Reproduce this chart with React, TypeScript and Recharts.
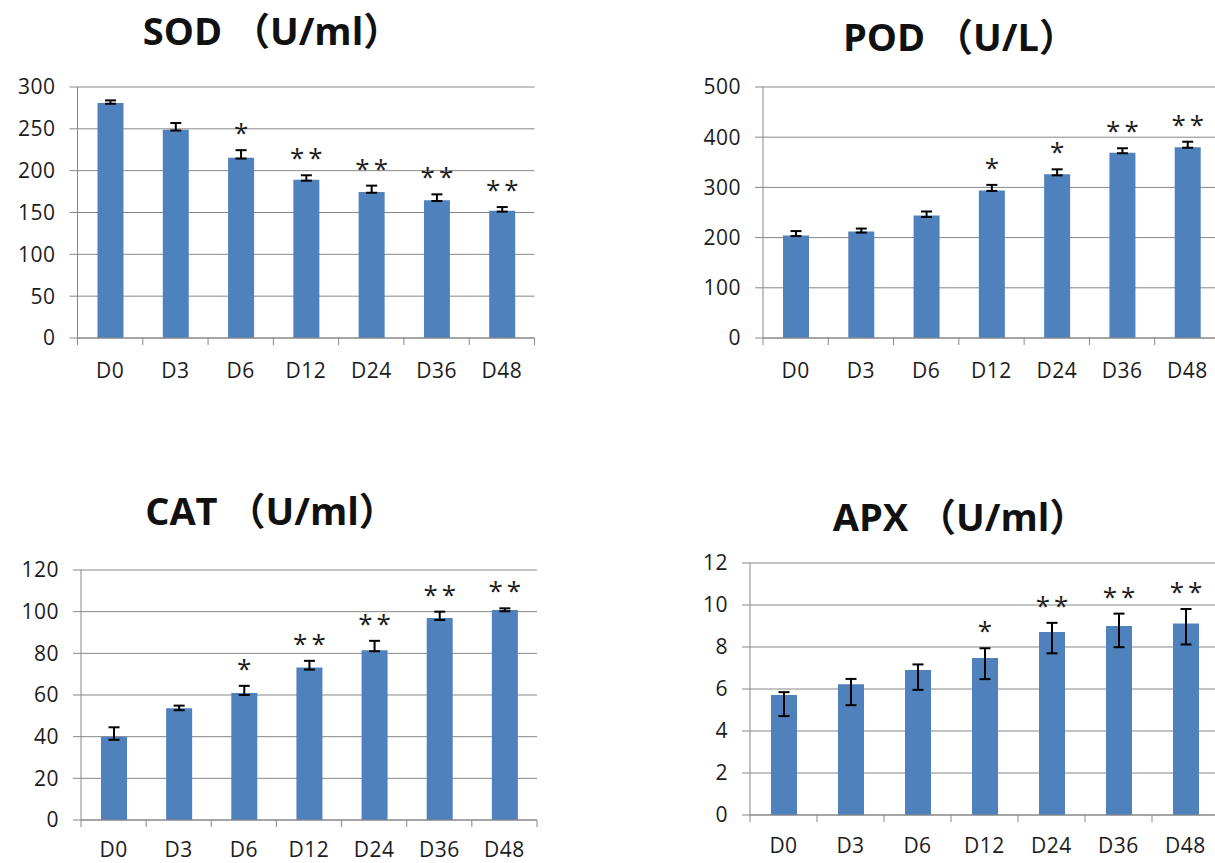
import { BarChart, Bar, XAxis, YAxis, CartesianGrid, ErrorBar, LabelList } from 'recharts'

const dias = ['D0', 'D3', 'D6', 'D12', 'D24', 'D36', 'D48']

const sodValores = [281, 249, 215.5, 189, 174.6, 164.7, 152]
const sodErrInf = [1, 1, 1, 1, 1, 1, 1]
const sodErrSup = [3, 8, 9, 5.5, 7.5, 7, 4.5]
const sodMarcas = ['', '', '*', '**', '**', '**', '**']
const sodTicks = [0, 50, 100, 150, 200, 250, 300]

const podValores = [204, 212, 244, 294, 326, 369, 380]
const podErrInf = [1, 2, 3, 1, 2, 1, 1]
const podErrSup = [9, 6, 8, 11, 10, 9, 11]
const podMarcas = ['', '', '', '*', '*', '**', '**']
const podTicks = [0, 100, 200, 300, 400, 500]

const catValores = [40, 53.7, 61, 73.2, 81.5, 97, 100.8]
const catErrInf = [1.5, 1, 1, 1, 0.5, 1, 0.6]
const catErrSup = [4.5, 1.2, 3.4, 3.2, 4.5, 3, 0.8]
const catMarcas = ['', '', '*', '**', '**', '**', '**']
const catTicks = [0, 20, 40, 60, 80, 100, 120]

const apxValores = [5.72, 6.23, 6.91, 7.48, 8.72, 9.0, 9.12]
const apxErrInf = [1.01, 1.0, 0.95, 1.01, 1.02, 1.01, 1.0]
const apxErrSup = [0.13, 0.25, 0.26, 0.46, 0.43, 0.59, 0.69]
const apxMarcas = ['', '', '', '*', '**', '**', '**']
const apxTicks = [0, 2, 4, 6, 8, 10, 12]

const AZUL = '#4F81BD'
const GRIS = '#878787'
const TEXTO = '#1c1c1c'
const FUENTE = "'Open Sans', 'Noto Sans CJK SC', sans-serif"

interface Caja {
  left: number
  top: number
  width: number
  height: number
  ejeY: number
  margenSup: number
  margenDer: number
  altoX: number
  margenTick: number
}

interface Props {
  titulo: string
  tituloX: number
  tituloY: number
  valores: number[]
  errInf: number[]
  errSup: number[]
  marcas: string[]
  ticks: number[]
  caja: Caja
}

function Panel({ titulo, tituloX, tituloY, valores, errInf, errSup, marcas, ticks, caja }: Props) {
  const data = dias.map((d, i) => ({
    dia: d,
    valor: valores[i],
    err: [errInf[i], errSup[i]],
    marca: marcas[i],
  }))
  const anchoPlot = caja.width - caja.ejeY - caja.margenDer
  const banda = anchoPlot / dias.length
  const margenTick = caja.margenTick

  const tickX = (p: any) => {
    const { x, y, payload, index } = p
    const yEje = y - margenTick
    const xa = x - banda / 2
    const xb = x + banda / 2
    return (
      <g>
        <line x1={xa} y1={yEje} x2={xa} y2={yEje + 7} stroke={GRIS} strokeWidth={1} />
        {index === dias.length - 1 && (
          <line x1={xb} y1={yEje} x2={xb} y2={yEje + 7} stroke={GRIS} strokeWidth={1} />
        )}
        <text
          x={x}
          y={y}
          dy="0.71em"
          textAnchor="middle"
          fill={TEXTO}
          fontSize={21}
          letterSpacing={0.5}
          fontFamily={FUENTE}
        >
          {payload.value}
        </text>
      </g>
    )
  }

  const marca = (p: any) => {
    const vb = p.viewBox ?? p
    const i = p.index
    const m = marcas[i]
    if (!m) return null
    const px = vb.height / valores[i]
    const yCap = vb.y - errSup[i] * px
    return (
      <text
        x={vb.x + vb.width / 2 + 2}
        y={yCap - 8}
        textAnchor="middle"
        fill={TEXTO}
        fontSize={26}
        letterSpacing={4}
        fontFamily={FUENTE}
      >
        {m}
      </text>
    )
  }

  return (
    <>
      <div
        style={{
          position: 'absolute',
          left: tituloX - 200,
          top: tituloY - 21,
          width: 400,
          height: 40,
          lineHeight: '40px',
          textAlign: 'center',
          fontSize: 38,
          fontWeight: 'bold',
          fontFamily: FUENTE,
          color: '#111',
          whiteSpace: 'pre',
        }}
      >
        {titulo}
      </div>
      <div style={{ position: 'absolute', left: caja.left, top: caja.top }}>
        <BarChart
          width={caja.width}
          height={caja.height}
          data={data}
          margin={{ top: caja.margenSup, right: caja.margenDer, bottom: 0, left: 0 }}
        >
          <CartesianGrid vertical={false} stroke={GRIS} />
          <XAxis
            dataKey="dia"
            height={caja.altoX}
            axisLine={{ stroke: GRIS }}
            tickLine={false}
            tickSize={0}
            tickMargin={margenTick}
            interval={0}
            tick={tickX}
          />
          <YAxis
            width={caja.ejeY}
            domain={[ticks[0], ticks[ticks.length - 1]]}
            ticks={ticks}
            interval={0}
            axisLine={{ stroke: GRIS }}
            tickLine={{ stroke: GRIS }}
            tickSize={8}
            tickMargin={14}
            tick={{ fill: TEXTO, fontSize: 21, fontFamily: FUENTE, letterSpacing: 0.5 }}
          />
          <Bar dataKey="valor" fill={AZUL} barSize={26} isAnimationActive={false}>
            <ErrorBar dataKey="err" direction="y" width={5.5} stroke="#000" strokeWidth={2} isAnimationActive={false} />
            <LabelList dataKey="marca" content={marca} />
          </Bar>
        </BarChart>
      </div>
    </>
  )
}

export default function App() {
  return (
    <div
      style={{
        position: 'absolute',
        left: 0,
        top: 0,
        width: 1215,
        height: 863,
        overflow: 'hidden',
        background: '#fff',
      }}
    >
      <Panel
        titulo="SOD （U/ml）"
        tituloX={272}
        tituloY={31}
        valores={sodValores}
        errInf={sodErrInf}
        errSup={sodErrSup}
        marcas={sodMarcas}
        ticks={sodTicks}
        caja={{ left: 0, top: 60, width: 545, height: 330, ejeY: 77.5, margenSup: 27, margenDer: 10.5, altoX: 52, margenTick: 25 }}
      />
      <Panel
        titulo="POD （U/L）"
        tituloX={960}
        tituloY={37}
        valores={podValores}
        errInf={podErrInf}
        errSup={podErrSup}
        marcas={podMarcas}
        ticks={podTicks}
        caja={{ left: 690, top: 60, width: 540, height: 330, ejeY: 73, margenSup: 27, margenDer: 10, altoX: 52, margenTick: 25 }}
      />
      <Panel
        titulo="CAT （U/ml）"
        tituloX={271}
        tituloY={511}
        valores={catValores}
        errInf={catErrInf}
        errSup={catErrSup}
        marcas={catMarcas}
        ticks={catTicks}
        caja={{ left: 0, top: 543, width: 547, height: 320, ejeY: 81, margenSup: 27, margenDer: 10, altoX: 43, margenTick: 22 }}
      />
      <Panel
        titulo="APX （U/ml）"
        tituloX={960}
        tituloY={517}
        valores={apxValores}
        errInf={apxErrInf}
        errSup={apxErrSup}
        marcas={apxMarcas}
        ticks={apxTicks}
        caja={{ left: 690, top: 536, width: 540, height: 327, ejeY: 60, margenSup: 27, margenDer: 11, altoX: 48, margenTick: 23 }}
      />
    </div>
  )
}
